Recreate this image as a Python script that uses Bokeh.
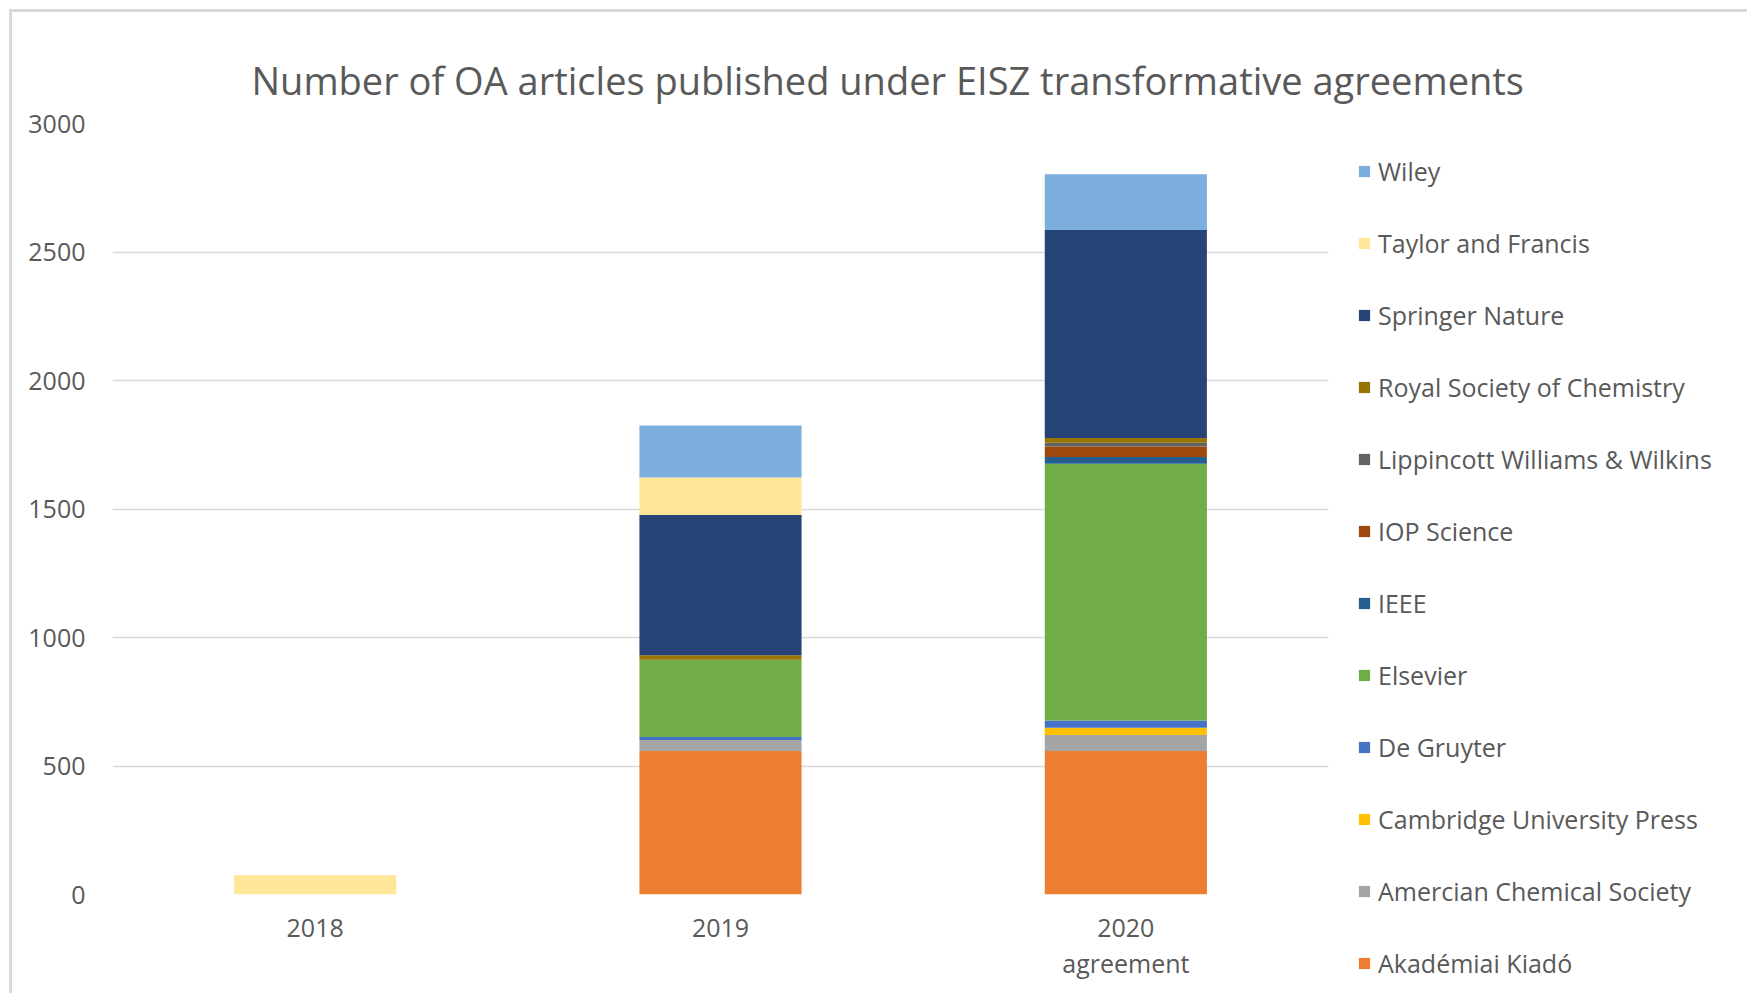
from bokeh.plotting import figure
from bokeh.models import (Legend, LegendItem, FixedTicker, FactorRange, Range1d, Title,
                          CategoricalAxis, CustomJSTickFormatter)
from bokeh.embed import file_html
from bokeh.resources import INLINE

years = ["2018", "2019", "2020"]
year_sublabels = ["", "", "agreement"]

akademiai = [0, 558, 558]
acs = [0, 43, 63]
cambridge = [0, 0, 28]
de_gruyter = [0, 12, 28]
elsevier = [0, 300, 999]
ieee = [0, 0, 26]
iop = [0, 0, 41]
lww = [0, 0, 15]
rsc = [0, 18, 18]
springer = [0, 546, 810]
taylor_francis = [75, 146, 0]
wiley = [0, 202, 217]

series_names = ["Akadémiai Kiadó", "Amercian Chemical Society", "Cambridge University Press",
                "De Gruyter", "Elsevier", "IEEE", "IOP Science", "Lippincott Williams & Wilkins",
                "Royal Society of Chemistry", "Springer Nature", "Taylor and Francis", "Wiley"]
series_values = [akademiai, acs, cambridge, de_gruyter, elsevier, ieee, iop, lww, rsc,
                 springer, taylor_francis, wiley]
colors = ["#ED7D31", "#A5A5A5", "#FFC000", "#4472C4", "#70AD47", "#255E91", "#9E480E",
          "#636363", "#997300", "#264478", "#FFE699", "#7CAFDD"]

keys = ["s%d" % i for i in range(len(series_names))]
data = {"year": years}
for k, v in zip(keys, series_values):
    data[k] = v

FONT = "Open Sans"
TXT = "#595959"

p = figure(x_range=FactorRange(*years, range_padding=0), y_range=Range1d(0, 3000),
           width=1738, height=984, output_backend="svg", toolbar_location=None,
           min_border_left=100, min_border_right=422, min_border_top=111, min_border_bottom=102,
           margin=(9, 0, 0, 9),
           styles={"border-left": "3px solid #d9d9d9", "border-top": "3px solid #d9d9d9"})

main_x = p.xaxis[0]
main_y = p.yaxis[0]

renderers = p.vbar_stack(keys, x="year", width=0.4, color=colors, line_color=None, source=data)

p.add_layout(Title(text="Number of OA articles published under EISZ transformative agreements",
                   text_font=FONT, text_font_size="38px", text_font_style="normal",
                   text_color=TXT, align="left", offset=139, standoff=36), "above")

# thin empty band between the title and the plot area
spacer = CategoricalAxis(formatter=CustomJSTickFormatter(code="return '';"),
                         major_label_text_font_size="1px", major_label_standoff=19,
                         major_tick_out=0, major_tick_in=0, axis_line_color=None,
                         major_tick_line_color=None, minor_tick_line_color=None)
p.add_layout(spacer, "above")

p.outline_line_color = None
p.background_fill_color = "white"
p.border_fill_color = "white"
p.xgrid.grid_line_color = None
p.ygrid.grid_line_color = "#d9d9d9"
p.ygrid.grid_line_width = 1.5

sub_axis = CategoricalAxis(formatter=CustomJSTickFormatter(
    args=dict(factors=years, labels=year_sublabels),
    code="const i = factors.indexOf(tick); return i >= 0 ? labels[i] : '';"))
p.add_layout(sub_axis, "below")

main_y.ticker = FixedTicker(ticks=[0, 500, 1000, 1500, 2000, 2500, 3000])
for ax in (main_x, main_y, sub_axis):
    ax.axis_line_color = None
    ax.major_tick_line_color = None
    ax.minor_tick_line_color = None
    ax.major_tick_out = 0
    ax.major_tick_in = 0
    ax.major_label_text_font = FONT
    ax.major_label_text_font_size = "25px"
    ax.major_label_text_color = TXT
main_y.major_label_standoff = 27
main_x.major_label_standoff = 24
sub_axis.major_label_standoff = 6

items = [LegendItem(label=n, renderers=[r]) for n, r in zip(series_names, renderers)][::-1]
legend = Legend(items=items, location=(29, -87), orientation="vertical",
                label_text_font=FONT, label_text_font_size="25px", label_text_color=TXT,
                glyph_width=14, glyph_height=14, label_height=36, spacing=36,
                label_standoff=7, padding=0, margin=-215, border_line_color=None,
                background_fill_alpha=0)
p.add_layout(legend, "right")

open("out.html", "w").write(file_html(p, INLINE))
